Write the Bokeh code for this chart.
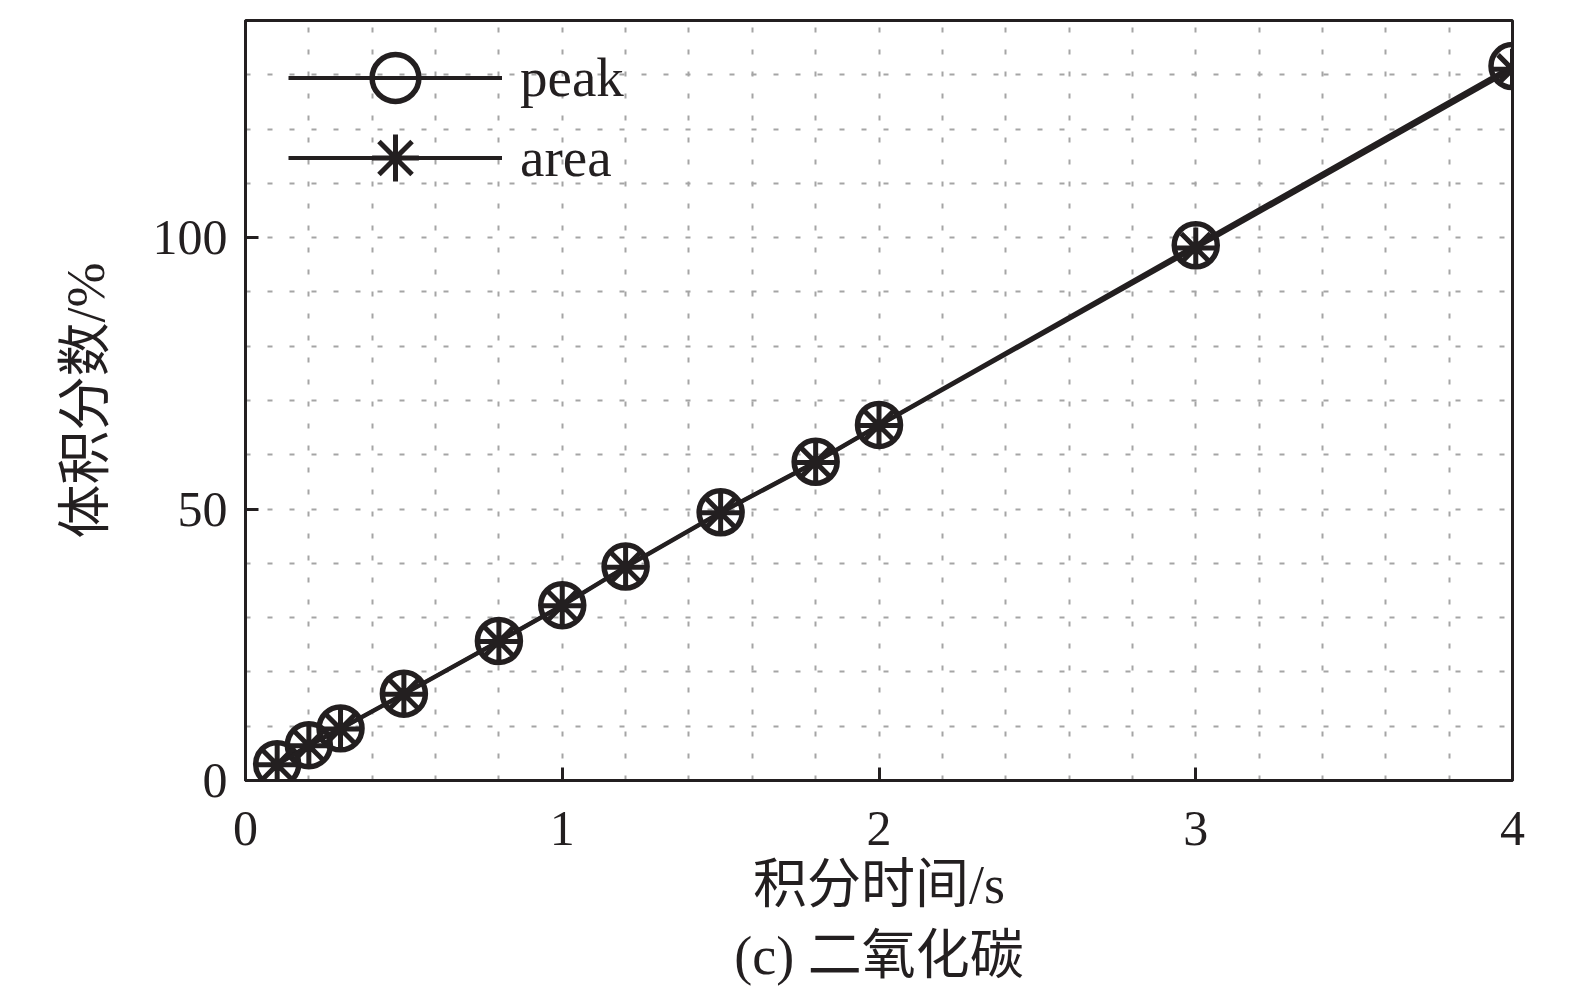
from bokeh.plotting import figure
from bokeh.models import FixedTicker, SingleIntervalTicker, Legend, LegendItem, Title, Range1d
from bokeh.embed import file_html
from bokeh.resources import INLINE

# data
x_time = [0.1, 0.2, 0.3, 0.5, 0.8, 1.0, 1.2, 1.5, 1.8, 2.0, 3.0, 4.0]
peak = [3.0, 6.5, 9.6, 16.0, 25.7, 32.3, 39.4, 49.4, 58.7, 65.5, 98.6, 131.6]
area = [2.9, 6.4, 9.5, 15.9, 25.6, 32.2, 39.3, 49.3, 58.6, 65.4, 98.1, 131.0]
x_ticks = [0, 1, 2, 3, 4]
y_ticks = [0, 50, 100]
x_label = "积分时间/s"
y_label = "体积分数/%"
caption = "(c) 二氧化碳"
series_names = ["peak", "area"]

INK = "#231f20"
SERIF = "Liberation Serif, Noto Sans CJK SC"

p = figure(width=1569, height=994, output_backend="svg", toolbar_location=None,
           x_range=Range1d(0, 4), y_range=Range1d(0, 140),
           min_border_left=245, min_border_right=57, min_border_top=20, min_border_bottom=214)

p.outline_line_color = INK
p.outline_line_width = 3
p.outline_line_alpha = 1

for ax in (p.xaxis[0], p.yaxis[0]):
    ax.axis_line_color = INK
    ax.axis_line_width = 3
    ax.major_tick_in = 13
    ax.major_tick_out = 0
    ax.major_tick_line_width = 3
    ax.major_tick_line_color = INK
    ax.minor_tick_line_color = None
    ax.major_label_text_font = SERIF
    ax.major_label_text_font_size = "50px"
    ax.major_label_text_color = INK
    ax.axis_label_text_font = SERIF
    ax.axis_label_text_font_size = "54px"
    ax.axis_label_text_font_style = "normal"
    ax.axis_label_text_color = INK

p.xaxis.ticker = FixedTicker(ticks=x_ticks)
p.yaxis.ticker = FixedTicker(ticks=y_ticks)
p.xaxis.axis_label = x_label
p.yaxis.axis_label = y_label
p.xaxis.major_label_standoff = 31
p.xaxis.axis_label_standoff = 7
p.yaxis.major_label_standoff = 18
p.yaxis.axis_label_standoff = 34

p.xgrid[0].ticker = SingleIntervalTicker(interval=0.2)
p.ygrid[0].ticker = SingleIntervalTicker(interval=10)
for g in (p.xgrid[0], p.ygrid[0]):
    g.grid_line_color = "#a5a5a5"
    g.grid_line_width = 2
    g.grid_line_dash = "5 17"

l1 = p.line(x_time, peak, line_color=INK, line_width=4)
m1 = p.scatter(x_time, peak, marker="circle", size=43, fill_color=None, line_color=INK, line_width=5.5)
l2 = p.line(x_time, area, line_color=INK, line_width=4)
m2 = p.scatter(x_time, area, marker="asterisk", size=41, line_color=INK, line_width=5)

common = dict(glyph_width=214, glyph_height=117, label_height=117, padding=0, margin=0,
              label_standoff=18, label_text_font=SERIF, label_text_font_size="55px",
              label_text_color=INK, border_line_color=None, background_fill_alpha=0)
leg1 = Legend(items=[LegendItem(label=series_names[0], renderers=[l1, m1])],
              location=(43, 644), **common)
leg2 = Legend(items=[LegendItem(label=series_names[1], renderers=[l2, m2])],
              location=(43, 564), **common)
p.add_layout(leg1)
p.add_layout(leg2)

cap = Title(text=caption, align="center", text_font=SERIF, text_font_size="54px",
            text_font_style="normal", text_color=INK, standoff=12, offset=0)
p.add_layout(cap, "below")

open("out.html", "w").write(file_html(p, INLINE))
